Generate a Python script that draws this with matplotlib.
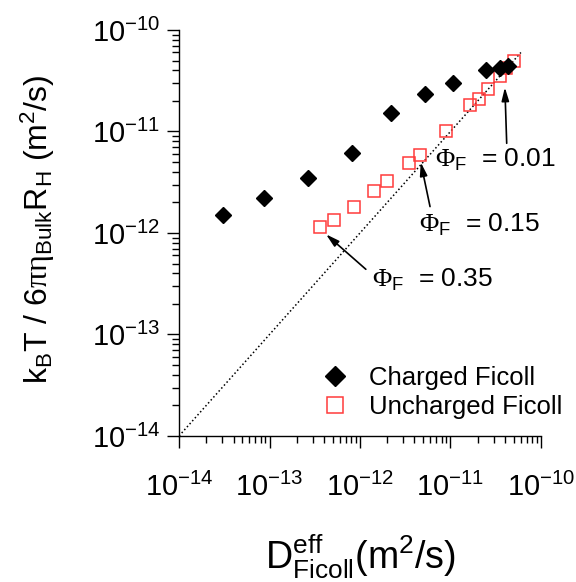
import numpy as np
import matplotlib
matplotlib.use('Agg')
import matplotlib.pyplot as plt
from matplotlib.ticker import LogLocator, NullFormatter

plt.rcParams['font.family'] = ['Liberation Sans', 'DejaVu Sans']
plt.rcParams['mathtext.fontset'] = 'custom'
plt.rcParams['mathtext.rm'] = 'Liberation Sans'
plt.rcParams['mathtext.it'] = 'Liberation Sans:italic'
plt.rcParams['mathtext.sf'] = 'Liberation Serif'

# charged ficoll: D_eff vs kT/6 pi eta R_H
charged_x = [3.1e-14, 8.8e-14, 2.64e-13, 8.1e-13, 2.2e-12, 5.2e-12, 1.07e-11, 2.5e-11, 3.5e-11, 4.35e-11]
charged_y = [1.50e-12, 2.2e-12, 3.5e-12, 6.1e-12, 1.51e-11, 2.32e-11, 2.99e-11, 4.03e-11, 4.25e-11, 4.45e-11]

# uncharged ficoll
unch_x = [3.61e-13, 5.2e-13, 8.5e-13, 1.44e-12, 1.97e-12, 3.45e-12, 4.6e-12, 8.9e-12,
          1.64e-11, 2.07e-11, 2.62e-11, 3.52e-11, 4.1e-11, 4.99e-11]
unch_y = [1.14e-12, 1.34e-12, 1.79e-12, 2.58e-12, 3.25e-12, 4.93e-12, 5.87e-12, 1.0e-11,
          1.82e-11, 2.09e-11, 2.65e-11, 3.52e-11, 4.22e-11, 4.99e-11]

# y = x reference line
ref_line = [1e-14, 6e-11]

# annotations: label, text position, arrow tail, arrow head
phi_labels = ['0.01', '0.15', '0.35']
phi_text_pos = [(6.75e-12, 5.24e-12), (4.49e-12, 1.2e-12), (1.36e-12, 3.44e-13)]
phi_tails = [(4.18e-11, 7.65e-12), (5.94e-12, 1.82e-12), (1.16e-12, 4.39e-13)]
phi_heads = [(3.99e-11, 2.72e-11), (4.69e-12, 4.97e-12), (4.21e-13, 9.7e-13)]

fig = plt.figure(figsize=(5.76, 5.82), dpi=100)
ax = fig.add_axes([0.3108, 0.2509, 0.6284, 0.6976])

ax.plot(ref_line, ref_line, color='black', linestyle=(0, (1, 1.6)), lw=1.1, zorder=1)
ax.plot(charged_x, charged_y, 'D', color='black', ms=8.2, ls='none', label='Charged Ficoll', zorder=3)
ax.plot(unch_x, unch_y, 's', mfc='none', mec='#ff3b3b', mew=1.1, ms=8.5, ls='none',
        label='Uncharged Ficoll', zorder=2)

ax.set_xscale('log')
ax.set_yscale('log')
ax.set_xlim(1e-14, 1e-10)
ax.set_ylim(1e-14, 1e-10)

for axis in (ax.xaxis, ax.yaxis):
    axis.set_major_locator(LogLocator(base=10, numticks=10))
    axis.set_minor_locator(LogLocator(base=10, subs=np.arange(2, 10), numticks=10))
    axis.set_minor_formatter(NullFormatter())

ax.spines['top'].set_visible(False)
ax.spines['right'].set_visible(False)
ax.spines['left'].set_linewidth(1.0)
ax.spines['bottom'].set_linewidth(1.0)
ax.tick_params(which='major', direction='out', length=8.5, width=1.0, labelsize=21)
ax.tick_params(which='minor', direction='out', length=5, width=1.0)
ax.tick_params(axis='x', which='major', pad=18)
ax.tick_params(axis='y', which='major', pad=5)

ax.set_xlabel(r'$\mathregular{D_{Ficoll}^{eff}(m^2/s)}$', fontsize=27, labelpad=22)
ax.set_ylabel(r'$\mathregular{k_BT\ /\ 6}\mathsf{\pi\eta}_\mathregular{Bulk}\mathregular{R_H\ (m^2/s)}$',
              fontsize=23)
ax.yaxis.set_label_coords(-0.338, 0.51)

for lab, tpos, tail, head in zip(phi_labels, phi_text_pos, phi_tails, phi_heads):
    ax.annotate('', xy=head, xytext=tail,
                arrowprops=dict(arrowstyle='-|>,head_length=0.8,head_width=0.22',
                                color='black', lw=1.2, shrinkA=0, shrinkB=0))
    ax.text(tpos[0], tpos[1], r'$\mathsf{\Phi}_\mathregular{F}$  = ' + lab,
            fontsize=19, ha='left', va='center')

ax.legend(loc='upper left', bbox_to_anchor=(0.359, 0.197), frameon=False, fontsize=18.5,
          markerscale=1.3, handletextpad=0.75, labelspacing=0.2, handlelength=1.2,
          borderaxespad=0)

fig.savefig('out.png', dpi=100)
